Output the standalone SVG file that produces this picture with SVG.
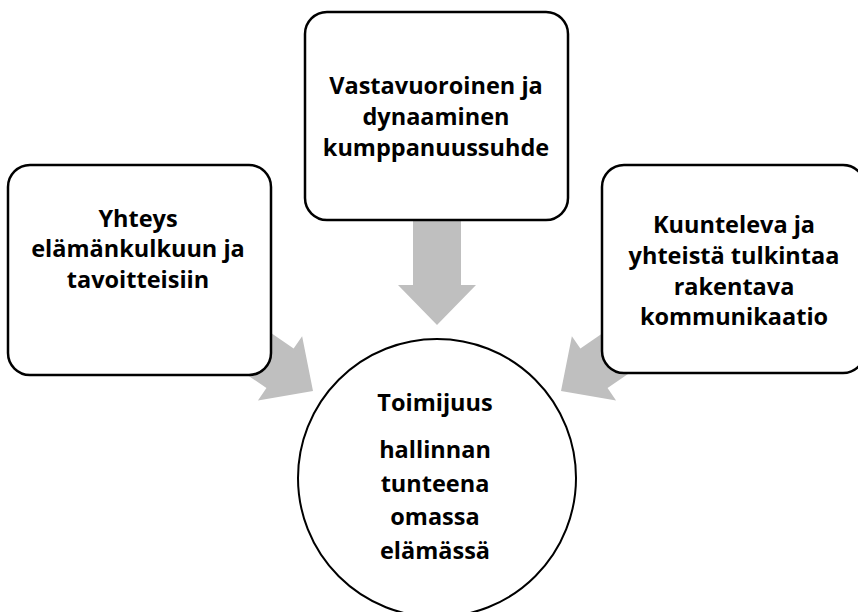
<svg xmlns="http://www.w3.org/2000/svg" width="858" height="612" viewBox="0 0 858 612">
  <defs>
    <style>
      .box { fill: #ffffff; stroke: #000000; stroke-width: 2.5; }
      .circ { fill: #ffffff; stroke: #000000; stroke-width: 2; }
      .arrow { fill: #bfbfbf; stroke: none; }
      .lbl { font-family: "Open Sans", "Liberation Sans", sans-serif; font-weight: bold; font-size: 23.5px; fill: #000000; text-anchor: middle; }
    </style>
    <polygon id="arr" points="0,0 -40,-39 -40,-24 -130,-24 -130,24 -40,24 -40,39"/>
  </defs>
  <rect width="858" height="612" fill="#ffffff"/>
  <g id="connectors">
    <use href="#arr" class="arrow" transform="translate(437,325) rotate(90)"/>
    <use href="#arr" class="arrow" transform="translate(313,391) rotate(34.5)"/>
    <use href="#arr" class="arrow" transform="translate(561,391) rotate(145.5)"/>
  </g>
  <g id="node-top">
    <rect class="box" x="305" y="12" width="263" height="208" rx="22"/>
    <text class="lbl"><tspan x="436" y="94">Vastavuoroinen ja</tspan><tspan x="436" y="125">dynaaminen</tspan><tspan x="436" y="156">kumppanuussuhde</tspan></text>
  </g>
  <g id="node-left">
    <rect class="box" x="8" y="165" width="263" height="210" rx="22"/>
    <text class="lbl"><tspan x="138" y="227">Yhteys</tspan><tspan x="138" y="257">elämänkulkuun ja</tspan><tspan x="138" y="288">tavoitteisiin</tspan></text>
  </g>
  <g id="node-right">
    <rect class="box" x="602" y="165" width="263" height="208" rx="22"/>
    <text class="lbl"><tspan x="734" y="233">Kuunteleva ja</tspan><tspan x="734" y="264">yhteistä tulkintaa</tspan><tspan x="734" y="295">rakentava</tspan><tspan x="734" y="325">kommunikaatio</tspan></text>
  </g>
  <g id="node-center">
    <circle class="circ" cx="437" cy="478" r="139"/>
    <text class="lbl"><tspan x="435" y="411">Toimijuus</tspan><tspan x="435" y="458">hallinnan</tspan><tspan x="435" y="492">tunteena</tspan><tspan x="435" y="525">omassa</tspan><tspan x="435" y="559">elämässä</tspan></text>
  </g>
</svg>
